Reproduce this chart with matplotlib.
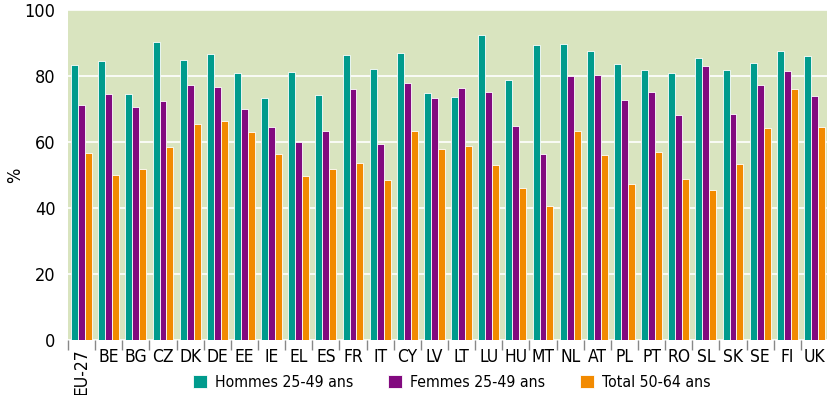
import numpy as np
import matplotlib.pyplot as plt

plt.rcParams['font.family'] = ['DejaVu Sans']
plt.rcParams['font.stretch'] = 'condensed'

pays = ['EU-27', 'BE', 'BG', 'CZ', 'DK', 'DE', 'EE', 'IE', 'EL', 'ES', 'FR', 'IT', 'CY', 'LV',
        'LT', 'LU', 'HU', 'MT', 'NL', 'AT', 'PL', 'PT', 'RO', 'SL', 'SK', 'SE', 'FI', 'UK']
hommes = [83.3, 84.5, 74.5, 90.2, 84.9, 86.6, 81.0, 73.2, 81.3, 74.2, 86.5, 82.2, 87.0, 74.7,
          73.7, 92.4, 78.7, 89.5, 89.6, 87.6, 83.6, 81.9, 81.0, 85.5, 81.9, 84.0, 87.7, 86.0]
femmes = [71.2, 74.5, 70.5, 72.3, 77.4, 76.6, 69.9, 64.6, 60.1, 63.4, 76.1, 59.3, 78.0, 73.4,
          76.5, 75.3, 64.7, 56.4, 80.0, 80.2, 72.6, 75.3, 68.3, 83.0, 68.6, 77.2, 81.5, 73.9]
total = [56.6, 50.1, 51.9, 58.6, 65.5, 66.5, 63.1, 56.4, 49.7, 51.9, 53.5, 48.5, 63.4, 57.8,
         58.9, 53.1, 46.2, 40.7, 63.4, 56.0, 47.2, 57.1, 48.7, 45.5, 53.4, 64.1, 76.0, 64.6]

x = np.arange(len(pays))
w = 0.255

fig = plt.figure(figsize=(8.27, 3.95), dpi=100)
ax = fig.add_axes([68/827, 55/395, 760/827, 330/395])
ax.set_facecolor('#d9e4bf')

ax.bar(x - w, hommes, w, color='#009b8d', edgecolor='white', linewidth=0.6, label='Hommes 25-49 ans', zorder=3)
ax.bar(x, femmes, w, color='#820a7f', edgecolor='white', linewidth=0.6, label='Femmes 25-49 ans', zorder=3)
ax.bar(x + w, total, w, color='#f28a00', edgecolor='white', linewidth=0.6, label='Total 50-64 ans', zorder=3)

ax.set_xlim(-0.5, len(pays) - 0.5)
ax.set_ylim(0, 100)
ax.set_yticks([0, 20, 40, 60, 80, 100])
ax.yaxis.grid(True, color='white', linewidth=1.2, zorder=0)
ax.tick_params(axis='y', length=0, labelsize=13, pad=9)
ax.set_ylabel('%', fontsize=13)
ax.yaxis.set_label_coords(-44/760, 0.5)

# séparateurs entre pays
ax.set_xticks(np.arange(len(pays) + 1) - 0.5)
ax.set_xticklabels([])
ax.tick_params(axis='x', length=7, color='#888888', width=1)
for i, p in enumerate(pays):
    if i == 0:
        ax.text(i, -2.5, p, rotation=90, ha='center', va='top', fontsize=12.5)
    else:
        ax.text(i, -2.5, p, ha='center', va='top', fontsize=12.5)

for s in ax.spines.values():
    s.set_visible(False)

ax.legend(loc='center', bbox_to_anchor=(0.505, -0.13), ncol=3, frameon=False,
          fontsize=11.3, handlelength=0.9, handleheight=0.9, columnspacing=2.2, handletextpad=0.5)

fig.savefig('out.png', dpi=100)
